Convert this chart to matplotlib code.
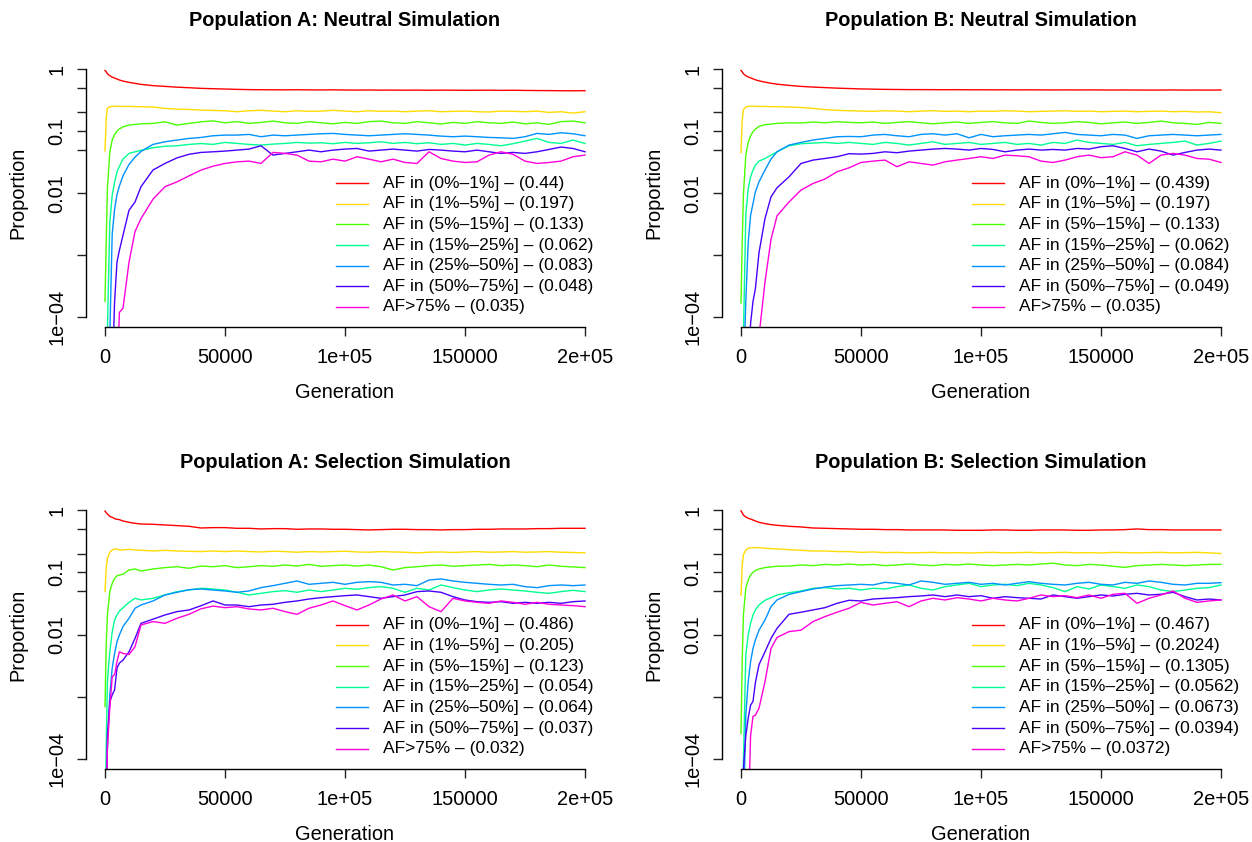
import matplotlib
matplotlib.use("Agg")
import matplotlib.pyplot as plt

plt.rcParams['font.family'] = ['Liberation Sans', 'DejaVu Sans']

gens = [0, 500, 1000, 2000, 3000, 4000, 5000, 6000, 7500, 10000, 12500, 15000,
        20000, 25000, 30000, 35000, 40000, 45000,
        50000, 55000, 60000, 65000, 70000, 75000, 80000, 85000, 90000, 95000,
        100000, 105000, 110000, 115000, 120000, 125000, 130000, 135000, 140000,
        145000, 150000, 155000, 160000, 165000, 170000, 175000, 180000, 185000,
        190000, 195000, 200000]

bin_labels = ["AF in (0%\u20131%]", "AF in (1%\u20135%]", "AF in (5%\u201315%]",
              "AF in (15%\u201325%]", "AF in (25%\u201350%]", "AF in (50%\u201375%]",
              "AF>75%"]
bin_colors = ["#FF0000", "#FFDB00", "#49FF00", "#00FF92", "#0092FF", "#4900FF", "#FF00DB"]

titles = ["Population A: Neutral Simulation", "Population B: Neutral Simulation",
          "Population A: Selection Simulation", "Population B: Selection Simulation"]

# legend numbers per panel
a_neutral_means = [0.44, 0.197, 0.133, 0.062, 0.083, 0.048, 0.035]
b_neutral_means = [0.439, 0.197, 0.133, 0.062, 0.084, 0.049, 0.035]
a_selection_means = [0.486, 0.205, 0.123, 0.054, 0.064, 0.037, 0.032]
b_selection_means = [0.467, 0.2024, 0.1305, 0.0562, 0.0673, 0.0394, 0.0372]

# ---- Population A, neutral ----
a_neu_1 = [0.95, 0.905, 0.84, 0.78, 0.74, 0.716, 0.69, 0.665, 0.64, 0.61, 0.587, 0.566,
           0.54, 0.525, 0.51, 0.5, 0.488, 0.482,
           0.476, 0.47, 0.466, 0.464, 0.463, 0.462, 0.464, 0.461, 0.46, 0.462, 0.459,
           0.458, 0.46, 0.457, 0.458, 0.456, 0.458, 0.455, 0.457, 0.456, 0.454,
           0.455, 0.456, 0.453, 0.455, 0.452, 0.45, 0.449, 0.447, 0.446, 0.448]
a_neu_2 = [0.048, 0.16, 0.232, 0.247, 0.25, 0.252, 0.25, 0.251, 0.249, 0.25, 0.248, 0.247,
           0.244, 0.232, 0.226, 0.223, 0.218, 0.215,
           0.213, 0.205, 0.213, 0.216, 0.21, 0.205, 0.213, 0.208, 0.21, 0.216, 0.21,
           0.205, 0.213, 0.208, 0.21, 0.205, 0.21, 0.213, 0.205, 0.208, 0.21,
           0.205, 0.203, 0.21, 0.208, 0.205, 0.21, 0.2, 0.205, 0.195, 0.205]
a_neu_3 = [1.8e-4, 0.0016, 0.012, 0.046, 0.072, 0.088, 0.1, 0.108, 0.117, 0.125, 0.128, 0.131,
           0.133, 0.141, 0.125, 0.133, 0.141, 0.146,
           0.136, 0.142, 0.133, 0.138, 0.145, 0.136, 0.133, 0.142, 0.136, 0.131, 0.138,
           0.133, 0.142, 0.145, 0.136, 0.133, 0.142, 0.136, 0.13, 0.138, 0.133,
           0.142, 0.136, 0.133, 0.14, 0.131, 0.136, 0.128, 0.142, 0.145, 0.136]
a_neu_4 = [1e-5, 1e-5, 6e-5, 0.0034, 0.0093, 0.015, 0.022, 0.027, 0.0354, 0.0437, 0.0464, 0.049,
           0.054, 0.057, 0.058, 0.061, 0.063, 0.061,
           0.0657, 0.0633, 0.061, 0.0595, 0.0617, 0.0633, 0.0657, 0.064, 0.0649, 0.0626, 0.0657,
           0.0633, 0.0649, 0.0673, 0.0633, 0.0657, 0.0626, 0.0649, 0.061, 0.0633, 0.0595,
           0.0633, 0.061, 0.058, 0.0626, 0.069, 0.0762, 0.0657, 0.0633, 0.0717, 0.0633]
a_neu_5 = [1e-5, 1e-5, 1e-5, 5e-5, 0.0022, 0.0055, 0.0095, 0.013, 0.019, 0.029, 0.038, 0.047,
           0.061, 0.0673, 0.0717, 0.0762, 0.079, 0.0841,
           0.0862, 0.0862, 0.0884, 0.0811, 0.0862, 0.0841, 0.0862, 0.0884, 0.0906, 0.0917, 0.0884,
           0.0862, 0.0841, 0.0862, 0.0884, 0.0906, 0.0884, 0.0862, 0.083, 0.0811, 0.083,
           0.0811, 0.079, 0.078, 0.0762, 0.0811, 0.0917, 0.0884, 0.094, 0.0906, 0.0841]
a_neu_6 = [1e-5, 1e-5, 1e-5, 1e-5, 1e-5, 1.8e-4, 7.8e-4, 0.0012, 0.0021, 0.0053, 0.0072, 0.0127,
           0.0236, 0.0301, 0.037, 0.0423, 0.0453, 0.0464,
           0.0476, 0.0494, 0.0513, 0.058, 0.041, 0.0437, 0.0464, 0.0494, 0.0464, 0.0494, 0.0513,
           0.0525, 0.0476, 0.0494, 0.0513, 0.0494, 0.0476, 0.0506, 0.0494, 0.0476, 0.0464,
           0.0494, 0.0464, 0.0437, 0.0453, 0.0437, 0.0464, 0.0506, 0.0553, 0.0525, 0.0464]
a_neu_7 = [1e-5, 1e-5, 1e-5, 1e-5, 1e-5, 1e-5, 1e-5, 1.2e-4, 1.4e-4, 7.7e-4, 0.0024, 0.0039,
           0.008, 0.0127, 0.0152, 0.019, 0.0235, 0.0272,
           0.0301, 0.032, 0.0328, 0.0301, 0.0453, 0.0437, 0.041, 0.0328, 0.032, 0.0353, 0.0328,
           0.0386, 0.0353, 0.032, 0.0353, 0.0312, 0.0301, 0.0464, 0.0362, 0.0328, 0.0312,
           0.032, 0.041, 0.0464, 0.0423, 0.0328, 0.0301, 0.0312, 0.0328, 0.0386, 0.041]

# ---- Population B, neutral ----
b_neu_1 = [0.95, 0.9, 0.84, 0.78, 0.745, 0.72, 0.695, 0.67, 0.645, 0.615, 0.59, 0.57,
           0.545, 0.525, 0.512, 0.502, 0.492, 0.485,
           0.478, 0.474, 0.47, 0.468, 0.466, 0.466, 0.465, 0.464, 0.465, 0.463, 0.463,
           0.462, 0.463, 0.461, 0.462, 0.461, 0.46, 0.461, 0.46, 0.461, 0.46,
           0.459, 0.46, 0.459, 0.458, 0.459, 0.46, 0.458, 0.459, 0.458, 0.46]
b_neu_2 = [0.045, 0.15, 0.22, 0.245, 0.25, 0.252, 0.252, 0.25, 0.25, 0.249, 0.248, 0.247,
           0.244, 0.24, 0.232, 0.222, 0.216, 0.213,
           0.21, 0.208, 0.213, 0.21, 0.205, 0.21, 0.213, 0.208, 0.21, 0.205, 0.21,
           0.208, 0.213, 0.21, 0.205, 0.208, 0.21, 0.213, 0.208, 0.21, 0.205,
           0.208, 0.21, 0.205, 0.208, 0.21, 0.205, 0.208, 0.203, 0.205, 0.198]
b_neu_3 = [1.7e-4, 0.0016, 0.0093, 0.041, 0.0657, 0.084, 0.098, 0.108, 0.119, 0.127, 0.13, 0.133,
           0.136, 0.135, 0.14, 0.136, 0.1415, 0.138,
           0.136, 0.14, 0.133, 0.138, 0.142, 0.136, 0.131, 0.136, 0.14, 0.133, 0.138,
           0.142, 0.136, 0.133, 0.145, 0.138, 0.133, 0.136, 0.142, 0.138, 0.131,
           0.136, 0.14, 0.133, 0.138, 0.145, 0.136, 0.133, 0.128, 0.138, 0.133]
b_neu_4 = [1e-5, 1e-5, 5e-5, 0.0044, 0.0119, 0.0183, 0.0236, 0.0283, 0.0328, 0.0362, 0.041, 0.0464,
           0.058, 0.0626, 0.064, 0.0657, 0.0633, 0.0657,
           0.0633, 0.061, 0.0657, 0.0633, 0.0595, 0.0633, 0.0673, 0.061, 0.0633, 0.0657, 0.061,
           0.0633, 0.0657, 0.061, 0.0633, 0.0595, 0.0657, 0.0633, 0.0717, 0.0657, 0.0633,
           0.061, 0.0657, 0.058, 0.061, 0.0633, 0.0657, 0.069, 0.0595, 0.0633, 0.069]
b_neu_5 = [1e-5, 1e-5, 1e-5, 1.8e-4, 0.0016, 0.0044, 0.0068, 0.0105, 0.0152, 0.0236, 0.0354, 0.0464,
           0.0595, 0.0657, 0.0717, 0.0762, 0.0811, 0.082,
           0.0811, 0.0862, 0.0884, 0.0841, 0.0811, 0.0884, 0.0906, 0.0862, 0.0906, 0.078, 0.0884,
           0.0811, 0.0841, 0.0862, 0.0884, 0.0862, 0.0906, 0.0952, 0.0884, 0.0862, 0.0841,
           0.0884, 0.0862, 0.0762, 0.0841, 0.0862, 0.0884, 0.0862, 0.0841, 0.0862, 0.0884]
b_neu_6 = [1e-5, 1e-5, 1e-5, 1e-5, 1e-5, 8e-5, 1.8e-4, 2.9e-4, 0.0011, 0.0039, 0.0087, 0.0122,
           0.0183, 0.0301, 0.0341, 0.0362, 0.0386, 0.0432,
           0.0426, 0.0437, 0.0464, 0.0448, 0.0476, 0.0494, 0.0513, 0.0525, 0.0513, 0.0494, 0.0525,
           0.0506, 0.0464, 0.0494, 0.0513, 0.0494, 0.0506, 0.0494, 0.0525, 0.0513, 0.056,
           0.058, 0.0525, 0.0464, 0.0513, 0.0476, 0.041, 0.0453, 0.0494, 0.0513, 0.0494]
b_neu_7 = [1e-5, 1e-5, 1e-5, 1e-5, 1e-5, 1e-5, 1e-5, 1e-5, 5e-5, 3.7e-4, 0.0018, 0.0043,
           0.0072, 0.0112, 0.0143, 0.0169, 0.0221, 0.0256,
           0.0312, 0.0328, 0.0341, 0.0267, 0.032, 0.0301, 0.0283, 0.032, 0.0341, 0.0362, 0.0386,
           0.0362, 0.041, 0.04, 0.0386, 0.0328, 0.0312, 0.0341, 0.0386, 0.041, 0.0373,
           0.0386, 0.0464, 0.041, 0.0301, 0.041, 0.0437, 0.041, 0.0362, 0.0353, 0.0312]

# ---- Population A, selection ----
a_sel_1 = [0.96, 0.906, 0.863, 0.79, 0.763, 0.726, 0.708, 0.7, 0.666, 0.634, 0.611, 0.596,
           0.589, 0.575, 0.561, 0.547, 0.514, 0.521,
           0.521, 0.508, 0.508, 0.496, 0.502, 0.502, 0.49, 0.496, 0.496, 0.49, 0.49,
           0.484, 0.478, 0.484, 0.49, 0.49, 0.484, 0.484, 0.478, 0.484, 0.484,
           0.49, 0.49, 0.496, 0.496, 0.496, 0.502, 0.502, 0.508, 0.508, 0.508]
a_sel_2 = [0.049, 0.116, 0.168, 0.209, 0.228, 0.237, 0.234, 0.228, 0.228, 0.234, 0.228, 0.226,
           0.22, 0.225, 0.22, 0.217, 0.215, 0.22,
           0.215, 0.22, 0.215, 0.212, 0.218, 0.215, 0.21, 0.215, 0.212, 0.215, 0.218,
           0.212, 0.21, 0.215, 0.212, 0.21, 0.205, 0.21, 0.212, 0.208, 0.212,
           0.215, 0.21, 0.212, 0.215, 0.21, 0.212, 0.215, 0.21, 0.208, 0.205]
a_sel_3 = [7e-4, 0.0068, 0.0207, 0.049, 0.0666, 0.08, 0.088, 0.0906, 0.093, 0.109, 0.113, 0.105,
           0.113, 0.119, 0.123, 0.116, 0.126, 0.123,
           0.128, 0.119, 0.123, 0.128, 0.125, 0.131, 0.126, 0.134, 0.125, 0.128, 0.131,
           0.126, 0.131, 0.123, 0.109, 0.119, 0.123, 0.128, 0.131, 0.125, 0.128,
           0.131, 0.134, 0.128, 0.131, 0.128, 0.123, 0.131, 0.125, 0.122, 0.119]
a_sel_4 = [1e-5, 1.5e-4, 0.0018, 0.0053, 0.011, 0.0172, 0.0207, 0.024, 0.027, 0.033, 0.0383, 0.036,
           0.0383, 0.0433, 0.049, 0.052, 0.0554, 0.054,
           0.052, 0.0478, 0.0433, 0.046, 0.049, 0.0508, 0.0478, 0.052, 0.049, 0.052, 0.0554,
           0.0534, 0.0568, 0.0589, 0.0554, 0.0478, 0.0554, 0.052, 0.0626, 0.0568, 0.052,
           0.049, 0.052, 0.054, 0.052, 0.0502, 0.0478, 0.046, 0.049, 0.0514, 0.049]
a_sel_5 = [1e-5, 1e-5, 1.5e-4, 0.00108, 0.0029, 0.005, 0.0077, 0.0099, 0.0135, 0.0183, 0.0265, 0.0299,
           0.0347, 0.0433, 0.0478, 0.0527, 0.054, 0.052,
           0.0502, 0.0478, 0.0502, 0.0568, 0.0611, 0.0666, 0.0726, 0.0642, 0.0666, 0.0691, 0.0642,
           0.0691, 0.0708, 0.0691, 0.0626, 0.0642, 0.0611, 0.0753, 0.0782, 0.0726, 0.0691,
           0.0666, 0.0642, 0.0626, 0.0642, 0.0589, 0.0568, 0.0611, 0.0626, 0.0611, 0.0626]
a_sel_6 = [1e-5, 1e-5, 2.4e-4, 8.3e-4, 0.00108, 0.0013, 0.0029, 0.0035, 0.0039, 0.0053, 0.0087, 0.0152,
           0.0177, 0.0207, 0.0234, 0.0249, 0.0291, 0.0347,
           0.0299, 0.0299, 0.0281, 0.0299, 0.0307, 0.033, 0.0347, 0.0373, 0.0392, 0.0407, 0.0422,
           0.0433, 0.0407, 0.0383, 0.0407, 0.0433, 0.049, 0.0502, 0.0478, 0.0407, 0.036,
           0.0338, 0.033, 0.0338, 0.0318, 0.033, 0.0318, 0.033, 0.0318, 0.0338, 0.0347]
a_sel_7 = [1e-5, 1e-5, 1.5e-4, 6.6e-4, 0.0021, 0.0023, 0.0037, 0.0053, 0.005, 0.0048, 0.0064, 0.0143,
           0.0162, 0.0152, 0.0183, 0.0212, 0.026, 0.0287,
           0.0271, 0.0281, 0.0258, 0.0249, 0.0265, 0.0234, 0.0212, 0.0265, 0.0299, 0.0347, 0.0292,
           0.0249, 0.0299, 0.0373, 0.0433, 0.0347, 0.0407, 0.0281, 0.0234, 0.0383, 0.0347,
           0.033, 0.0318, 0.0347, 0.033, 0.0307, 0.033, 0.0307, 0.0299, 0.0292, 0.0281]

# ---- Population B, selection ----
b_sel_1 = [0.97, 0.895, 0.83, 0.772, 0.735, 0.717, 0.69, 0.666, 0.634, 0.604, 0.582, 0.568,
           0.547, 0.534, 0.514, 0.508, 0.502, 0.496,
           0.49, 0.49, 0.484, 0.484, 0.478, 0.478, 0.478, 0.478, 0.472, 0.472, 0.472,
           0.478, 0.478, 0.472, 0.472, 0.478, 0.478, 0.478, 0.472, 0.472, 0.478,
           0.478, 0.484, 0.496, 0.484, 0.484, 0.478, 0.478, 0.478, 0.478, 0.478]
b_sel_2 = [0.043, 0.131, 0.19, 0.228, 0.243, 0.246, 0.249, 0.249, 0.249, 0.243, 0.24, 0.237,
           0.231, 0.225, 0.22, 0.22, 0.215, 0.215,
           0.209, 0.212, 0.207, 0.209, 0.205, 0.207, 0.209, 0.205, 0.207, 0.204, 0.207,
           0.209, 0.205, 0.207, 0.209, 0.205, 0.207, 0.209, 0.205, 0.207, 0.204,
           0.209, 0.207, 0.205, 0.207, 0.209, 0.205, 0.207, 0.209, 0.205, 0.2]
b_sel_3 = [2.6e-4, 0.0037, 0.0207, 0.0554, 0.0753, 0.0906, 0.1, 0.107, 0.113, 0.119, 0.122, 0.125,
           0.126, 0.131, 0.128, 0.134, 0.131, 0.136,
           0.131, 0.134, 0.128, 0.131, 0.136, 0.131, 0.128, 0.134, 0.131, 0.136, 0.131,
           0.128, 0.131, 0.134, 0.131, 0.136, 0.14, 0.131, 0.128, 0.134, 0.131,
           0.125, 0.12, 0.128, 0.131, 0.134, 0.131, 0.128, 0.131, 0.134, 0.134]
b_sel_4 = [1e-5, 1e-5, 9e-5, 0.0047, 0.0099, 0.0152, 0.0207, 0.0249, 0.0299, 0.0356, 0.0392, 0.0433,
           0.0471, 0.0502, 0.0554, 0.0568, 0.054, 0.0554,
           0.052, 0.0554, 0.054, 0.0589, 0.0626, 0.0554, 0.052, 0.0589, 0.0626, 0.0666, 0.0589,
           0.0626, 0.0642, 0.0611, 0.0666, 0.0626, 0.0568, 0.049, 0.0589, 0.054, 0.0626,
           0.0589, 0.0554, 0.0626, 0.0589, 0.052, 0.049, 0.052, 0.0554, 0.0568, 0.0626]
b_sel_5 = [1e-5, 1e-5, 1e-5, 5.1e-4, 0.00176, 0.0037, 0.006, 0.0082, 0.0118, 0.0172, 0.0281, 0.036,
           0.0443, 0.049, 0.054, 0.0579, 0.0611, 0.0626,
           0.0642, 0.0626, 0.0691, 0.0666, 0.0626, 0.0726, 0.0691, 0.0642, 0.0666, 0.0691, 0.0642,
           0.0666, 0.0626, 0.0666, 0.0708, 0.0666, 0.0642, 0.0626, 0.0666, 0.0691, 0.0642,
           0.0626, 0.0691, 0.0666, 0.0726, 0.0691, 0.0642, 0.0626, 0.0666, 0.0666, 0.0683]
b_sel_6 = [1e-5, 1e-5, 7e-5, 2.4e-4, 4.6e-4, 7.4e-4, 8.5e-4, 0.0017, 0.0033, 0.0053, 0.0087, 0.0126,
           0.0212, 0.0229, 0.0249, 0.0271, 0.0318, 0.0356,
           0.0347, 0.0373, 0.0383, 0.0392, 0.0407, 0.0417, 0.0433, 0.0407, 0.0433, 0.0407, 0.0422,
           0.0383, 0.0407, 0.0392, 0.0383, 0.0373, 0.0433, 0.0407, 0.0383, 0.0407, 0.0433,
           0.0417, 0.0444, 0.046, 0.0433, 0.0444, 0.0478, 0.0407, 0.036, 0.0373, 0.036]
b_sel_7 = [1e-5, 1e-5, 1e-5, 1e-5, 1e-5, 2.4e-4, 4.9e-4, 5.1e-4, 6.6e-4, 0.00176, 0.006, 0.009,
           0.0112, 0.0118, 0.0162, 0.0195, 0.0229, 0.0265,
           0.033, 0.0299, 0.0318, 0.0338, 0.0281, 0.0347, 0.0383, 0.036, 0.0392, 0.0373, 0.0347,
           0.0383, 0.036, 0.0347, 0.0383, 0.0433, 0.0407, 0.0422, 0.0392, 0.0433, 0.0383,
           0.0444, 0.046, 0.0318, 0.0383, 0.0433, 0.0502, 0.0383, 0.033, 0.0347, 0.036]

panels = [
    (titles[0], [a_neu_1, a_neu_2, a_neu_3, a_neu_4, a_neu_5, a_neu_6, a_neu_7], a_neutral_means),
    (titles[1], [b_neu_1, b_neu_2, b_neu_3, b_neu_4, b_neu_5, b_neu_6, b_neu_7], b_neutral_means),
    (titles[2], [a_sel_1, a_sel_2, a_sel_3, a_sel_4, a_sel_5, a_sel_6, a_sel_7], a_selection_means),
    (titles[3], [b_sel_1, b_sel_2, b_sel_3, b_sel_4, b_sel_5, b_sel_6, b_sel_7], b_selection_means),
]

W, H = 1252, 842
# plot regions in pixels: (left, top, width, height) and title centre y
boxes = [(85.8, 59.1, 518.4, 268.1), (721.8, 59.1, 518.4, 268.1),
         (85.8, 500.0, 518.4, 269.3), (721.8, 500.0, 518.4, 269.3)]
title_y = [20, 20, 463, 463]

FS = 14.4      # axis text
LEG_FS = 12.5  # legend text is a bit smaller
fig = plt.figure(figsize=(W / 100, H / 100), dpi=100)

for (title, series, means), (l, t, w, h), ty in zip(panels, boxes, title_y):
    ax = fig.add_axes([l / W, 1 - (t + h) / H, w / W, h / H])
    for vals, col in zip(series, bin_colors):
        ax.plot(gens, vals, color=col, lw=1.0)
    ax.set_yscale('log')
    ax.set_xlim(-8000, 208000)
    ax.set_ylim(10 ** -4.16, 10 ** 0.16)

    ax.set_xticks([0, 50000, 100000, 150000, 200000])
    ax.set_xticklabels(["0", "50000", "1e+05", "150000", "2e+05"])
    ax.set_yticks([1e-4, 1e-3, 1e-2, 0.05, 0.1, 0.2, 0.5, 1])
    ax.set_yticklabels(["1e\u221204", "", "0.01", "", "0.1", "", "", "1"],
                       rotation=90, va='center')
    ax.yaxis.set_minor_locator(plt.NullLocator())
    ax.tick_params(axis='both', length=6.7, width=1.0, labelsize=FS, color='#222222')
    ax.tick_params(axis='x', pad=8.0)
    ax.tick_params(axis='y', pad=7.4)

    for side in ['top', 'right']:
        ax.spines[side].set_visible(False)
    ax.spines['bottom'].set_bounds(0, 200000)
    ax.spines['left'].set_bounds(1e-4, 1)
    ax.spines['bottom'].set_linewidth(1.0)
    ax.spines['left'].set_linewidth(1.0)

    ax.text(0.5, 1 + (t - ty) / h, title, transform=ax.transAxes, ha='center',
            va='center', fontsize=FS, fontweight='bold')
    ax.text(0.5, -65 / h, "Generation", transform=ax.transAxes, ha='center',
            va='center', fontsize=FS)
    ax.text(-67.8 / w, 0.5, "Proportion", transform=ax.transAxes, ha='center',
            va='center', rotation=90, fontsize=FS)

    # legend drawn by hand, no box
    for i, (lab, col, m) in enumerate(zip(bin_labels, bin_colors, means)):
        yy = 0.537 - i * 0.0768
        ax.plot([0.483, 0.545], [yy, yy], transform=ax.transAxes, color=col,
                lw=1.0, clip_on=False)
        ax.text(0.574, yy, f"{lab} \u2013 ({m})", transform=ax.transAxes,
                ha='left', va='center', fontsize=LEG_FS)

fig.savefig("out.png", dpi=100, facecolor='white')
